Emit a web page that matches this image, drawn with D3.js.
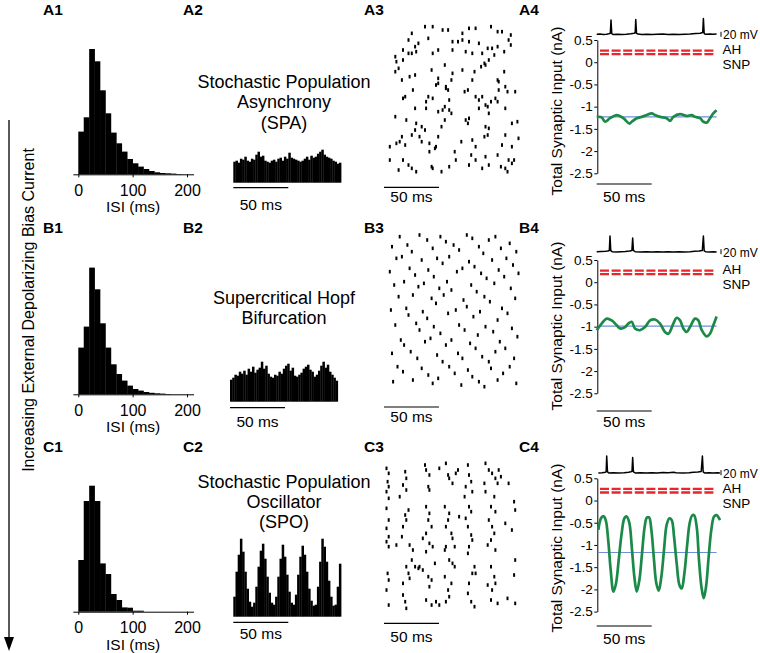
<!DOCTYPE html>
<html>
<head>
<meta charset="utf-8">
<script src="https://cdn.jsdelivr.net/npm/d3@7"></script>
<style>
  html, body { margin: 0; padding: 0; background: #fff; }
  svg { display: block; font-family: "Liberation Sans", Arial, Helvetica, sans-serif; }
</style>
</head>
<body>
<svg id="fig" width="760" height="653"></svg>
<script>
'use strict';

// ---------- data ----------
const sideLabel = 'Increasing External Depolarizing Bias Current';
const regimeTitles = [
  ['Stochastic Population', 'Asynchrony', '(SPA)'],
  ['Supercritical Hopf', 'Bifurcation'],
  ['Stochastic Population', 'Oscillator', '(SPO)']
];

// ISI histograms, 10 ms bins starting at 0 (relative counts)
const isiBinMs = 10;
const isiTicks = [0, 100, 200];
const isiA = [42.7, 57, 125.3, 113, 84, 61, 41.7, 31, 22.7, 15.3, 11, 7.7, 5.3, 3.3, 2, 1.3, 1, 0.7, 0.3];
const isiB = [46.7, 67.7, 126.7, 105, 71, 46.7, 30, 20.3, 13.7, 8.7, 5.3, 3.7, 2.3, 1.5, 1, 0.7, 0.3];
const isiC = [51.7, 110.7, 126, 110.7, 48.3, 37.7, 17.7, 11.7, 4.3, 4, 1, 1];

// population spike histograms, 2 ms bins
const psthBinMs = 2;
const psthA = [21, 22, 20, 24, 23, 26, 22, 21, 24, 23, 28, 31, 26, 27, 22, 21, 20, 22, 23, 21, 24, 25, 22, 26, 24,
  30, 25, 24, 23, 22, 21, 22, 24, 26, 23, 27, 25, 26, 29, 31, 33, 28, 26, 25, 24, 22, 21, 19, 20];
const psthB = [22, 24, 27, 26, 30, 28, 31, 27, 33, 30, 35, 29, 32, 34, 40, 33, 36, 28, 25, 24, 27, 26, 30, 28, 33,
  36, 38, 31, 34, 26, 25, 27, 29, 33, 35, 37, 32, 30, 25, 27, 31, 36, 40, 34, 37, 30, 27, 24, 21];
const psthC = [20, 45, 62, 78, 65, 45, 28, 15, 10, 14, 30, 50, 66, 73, 58, 40, 24, 14, 12, 20, 40, 58, 72, 60, 42,
  25, 14, 12, 22, 42, 60, 71, 62, 45, 28, 16, 11, 12, 30, 55, 78, 70, 55, 36, 20, 11, 12, 30, 53];

// rasters: [time ms, neuron index]
const rasterA = [[50,1],[57,1],[66,3],[71,3],[84,5],[90,2],[96,2],[110,1],[116,4],[120,4],[128,6],
  [38,5],[35,9],[44,11],[41,13],[53,8],[75,10],[80,10],[84,9],[90,10],[99,11],[107,14],[111,14],[116,13],[126,9],[128,12],
  [23,19],[30,15],[30,21],[35,17],[38,17],[42,16],[57,17],[62,15],[75,15],[87,16],[93,17],[102,17],[108,21],[113,18],[122,16],[24,22],[104,23],
  [23,28],[26,26],[29,33],[36,31],[41,30],[56,27],[62,32],[68,24],[75,29],[74,33],[84,27],[95,28],[101,25],[105,24],[116,33],[122,28],[117,34],[93,33],[123,37],[69,37],[62,35],
  [30,44],[32,43],[39,39],[53,43],[51,46],[57,44],[69,38],[71,39],[72,45],[86,40],[89,39],[96,43],[99,45],[102,43],[107,49],[110,46],[114,44],[117,39],[125,40],[132,40],[60,36],
  [23,55],[33,57],[41,50],[51,50],[62,52],[66,51],[72,51],[74,53],[68,49],[87,57],[89,59],[90,56],[99,50],[105,48],[108,53],[123,50],[116,46],[129,59],[134,58],[42,59],[47,61],[65,61],[105,61],[108,62],
  [38,66],[41,63],[45,67],[50,63],[54,71],[62,67],[60,73],[83,70],[93,69],[96,73],[104,67],[107,66],[123,66],[135,68],[29,67],[27,70],[24,71],[32,72],[47,70],[68,57],
  [18,73],[54,76],[59,74],[77,76],[78,81],[92,78],[96,81],[105,79],[108,84],[116,78],[120,72],[126,81],[129,83],[131,81],[18,81],[30,81],[35,84],[38,86],[56,85],[57,86],[72,85],[65,88],[26,87],[42,88],[90,84],[102,86],[119,85],[123,86],[125,88],[129,73]];
const rasterB = [[27,1],[45,0],[52,3],[64,1],[69,4],[88,0],[93,2],[108,3],[114,1],[127,5],
  [20,7],[34,6],[38,10],[57,8],[76,6],[81,9],[99,7],[103,11],[119,8],[133,10],
  [24,14],[29,13],[47,15],[61,14],[66,17],[72,13],[90,16],[95,19],[111,15],[124,14],[130,18],
  [18,22],[36,20],[41,24],[53,21],[58,25],[79,22],[84,20],[101,23],[106,26],[117,21],[122,25],[135,23],
  [22,30],[31,28],[44,31],[49,29],[63,32],[70,28],[74,33],[92,30],[97,34],[113,29],[128,32],
  [26,37],[39,36],[56,38],[60,41],[67,36],[85,39],[88,43],[104,37],[109,40],[120,44],[132,38],
  [19,45],[33,44],[35,48],[48,46],[52,50],[71,47],[78,45],[94,49],[100,46],[116,51],[125,47],
  [23,54],[42,53],[45,57],[58,55],[64,59],[81,54],[86,57],[98,60],[105,55],[112,58],[129,56],[134,61],
  [28,63],[31,66],[50,64],[55,62],[69,66],[74,63],[91,65],[96,68],[118,64],[123,68],
  [20,71],[37,70],[43,74],[61,72],[66,76],[80,71],[84,74],[102,73],[108,76],[114,70],[131,74],
  [25,79],[30,82],[47,80],[53,84],[72,79],[77,83],[89,81],[93,85],[110,80],[121,83],[127,79],
  [21,88],[39,87],[57,89],[62,86],[83,90],[99,88],[104,91],[116,87],[133,89]];
const rasterC = [[15,14],[17,17],[16,22],[17,25],[15,28],[17,32],[15,38],[17,45],[15,50],[17,55],[15,58],[17,61],[16,77],[17,81],[15,87],[17,96],
  [32,16],[33,20],[30,24],[33,27],[27,31],[35,39],[32,42],[33,45],[30,49],[29,55],[36,60],[39,63],[38,69],[33,73],[35,77],[36,80],[30,83],[30,90],[32,94],[33,98],[24,60],[41,73],[44,74],
  [50,12],[51,15],[54,18],[53,25],[54,27],[51,37],[54,41],[53,45],[56,49],[51,53],[48,56],[54,59],[57,61],[51,64],[48,75],[53,79],[56,81],[54,85],[51,93],[56,96],[45,73],[59,71],[60,94],[63,96],[63,14],
  [69,11],[71,18],[72,20],[75,23],[78,17],[68,37],[72,41],[71,45],[69,49],[74,53],[75,56],[69,61],[72,69],[75,71],[77,73],[68,79],[74,83],[71,87],[72,91],[69,94],[80,15],[81,43],[77,61],[68,63],
  [89,12],[90,18],[92,22],[87,25],[93,28],[90,37],[92,40],[87,44],[89,49],[92,54],[93,57],[90,61],[89,65],[95,73],[93,77],[90,83],[89,89],[92,94],[95,97],[96,77],[86,31],
  [105,11],[108,15],[111,17],[114,20],[116,23],[105,28],[113,31],[110,37],[114,40],[108,45],[111,49],[113,53],[110,57],[107,60],[114,63],[110,73],[113,79],[114,83],[111,87],[110,93],[116,95],[117,15],[119,19],[104,23],[107,84],
  [126,23],[131,34],[132,39],[129,51],[132,69],[131,78],[132,95],[125,92],[123,47]];

// membrane potential of one neuron: [time ms, mV]
const vmA = [[0,-60],[3,-59],[6,-61],[9,-60],[11,-58],[12.4,-56],[13,-3],[13.7,-57],[15,-61],[19,-60],[23,-61],[27,-60],[31,-58],[34,-56],[35,-54],[35.5,-1],[36.2,-56],[37.5,-59],[41,-61],[46,-60],[50,-61],[55,-60],[60,-59],[65,-61],[70,-60],[75,-61],[80,-60],[85,-59],[90,-57],[94,-56],[96.4,-53],[97,3],[97.7,-57],[99,-60],[103,-59],[106,-60],[109,-59]];
const vmB = [[0,-60],[4,-59],[8,-58],[10,-57],[11.5,-55],[12.1,3],[12.8,-56],[14,-60],[18,-61],[22,-60],[26,-59],[30,-57],[32,-55],[32.7,-5],[33.4,-56],[35,-60],[40,-61],[45,-60],[50,-61],[55,-60],[60,-61],[65,-60],[70,-61],[75,-60],[80,-61],[85,-60],[89,-58],[93,-57],[96,-55],[97,3],[97.7,-57],[99,-60],[103,-61],[106,-60],[109,-61]];
const vmC = [[1.5,-61],[5,-60],[8,-58],[8.6,-56],[9.1,7],[9.8,-57],[11,-61],[15,-60],[20,-61],[25,-60],[29,-58],[31,-56],[32.1,-54],[32.7,1],[33.4,-57],[35,-61],[40,-60],[45,-61],[50,-60],[55,-61],[60,-59],[65,-60],[70,-58],[72,-60],[78,-61],[84,-60],[88,-58],[92,-57],[95,-55],[96.1,7],[96.8,-57],[98,-61],[102,-60],[106,-61],[110,-60],[112,-61]];

// total synaptic input: [time ms, nA]
const synA = [[0,-1.23],[4.5,-1.24],[7.6,-1.34],[12.1,-1.26],[18.2,-1.19],[24.2,-1.26],[29.7,-1.38],[31.8,-1.34],[36.4,-1.26],[40.9,-1.23],[45.5,-1.19],[50,-1.15],[53,-1.19],[57.6,-1.23],[63.6,-1.26],[66.7,-1.32],[69.7,-1.23],[75.8,-1.17],[81.8,-1.21],[86.4,-1.19],[89.4,-1.23],[93.9,-1.26],[97,-1.34],[100,-1.36],[103,-1.26],[106,-1.15],[109,-1.08]];
const synB = [[0,-1.08],[4.5,-0.93],[9.1,-0.82],[13.6,-0.86],[18.2,-0.97],[21.2,-1.04],[25.8,-1.01],[28.8,-0.93],[31.8,-0.89],[34.8,-1.04],[39.4,-1.08],[43.9,-1.01],[48.5,-0.86],[53,-0.84],[57.6,-0.93],[62.1,-1.12],[65.2,-1.16],[69.7,-0.93],[72.7,-0.8],[75.8,-0.86],[78.8,-1.04],[81.8,-1.12],[84.8,-1.01],[89.4,-0.82],[92.4,-0.86],[95.5,-1.08],[100,-1.22],[103,-1.16],[106,-0.97],[109,-0.77]];
const synC = [[1.5,-0.66],[3.9,-0.4],[6.1,-0.35],[8.2,-0.44],[10.6,-0.93],[12.7,-1.56],[15.2,-2.05],[17.6,-1.86],[20,-1.34],[22.7,-0.74],[25.2,-0.4],[27.3,-0.36],[29.7,-0.51],[32.1,-1.11],[34.2,-1.71],[36.4,-2.05],[38.8,-1.79],[41.2,-1.19],[43.6,-0.59],[45.5,-0.39],[47.6,-0.38],[49.7,-0.66],[52.1,-1.34],[54.2,-1.86],[56.4,-2.03],[58.8,-1.71],[61.2,-1.11],[63.6,-0.55],[66.1,-0.4],[68.2,-0.44],[70.3,-0.81],[72.7,-1.41],[75.2,-1.9],[77.3,-1.98],[79.7,-1.64],[82.1,-1.04],[84.5,-0.51],[86.7,-0.34],[88.5,-0.33],[90.9,-0.59],[93,-1.34],[95.2,-1.94],[97.3,-2.2],[99.4,-1.94],[101.8,-1.26],[104.2,-0.66],[106.7,-0.36],[109.1,-0.33],[111.2,-0.4],[112.1,-0.44]];
const synMean = [-1.23, -0.99, -1.17];
const synTicks = [0.5, 0, -0.5, -1, -1.5, -2, -2.5];
const thresholdNames = ['AH', 'SNP'];
const thresholdValues = [0.26, 0.18];

const scaleBarMs = 50;
const scaleBarMv = 20;

// ---------- layout ----------
const INK = '#000';
const GREEN = '#1b8a48';
const RED = '#e8262b';
const BLUE = '#6f8fd8';
const PX_PER_MS = 1.1;

const rows = [
  { key: 'A', isi: isiA, psth: psthA, raster: rasterA, vm: vmA, syn: synA, mean: synMean[0], title: regimeTitles[0],
    labelY: 14.5, isiBase: 174.3, psthX0: 233.3, psthBase: 182.7, psthBarY: 187.7, psthTextY: 205,
    titleY: [81.7, 101.7, 123], rasterTop: 25, rasterBarY: 187.3, rasterTextY: 196.7,
    synTop: 40, vmBase: 34.3, synBarY: 184, synTextY: 196.7, synLabelY: 111 },
  { key: 'B', isi: isiB, psth: psthB, raster: rasterB, vm: vmB, syn: synB, mean: synMean[1], title: regimeTitles[1],
    labelY: 232.5, isiBase: 394.3, psthX0: 230, psthBase: 401.7, psthBarY: 407.7, psthTextY: 421.7,
    titleY: [298, 318], rasterTop: 235, rasterBarY: 407, rasterTextY: 417,
    synTop: 260, vmBase: 251.7, synBarY: 411, synTextY: 421.7, synLabelY: 326 },
  { key: 'C', isi: isiC, psth: psthC, raster: rasterC, vm: vmC, syn: synC, mean: synMean[2], title: regimeTitles[2],
    labelY: 452, isiBase: 611.7, psthX0: 233.3, psthBase: 616.7, psthBarY: 622.3, psthTextY: 633.3,
    titleY: [481.7, 501.7, 521.7], rasterTop: 445, rasterBarY: 623.3, rasterTextY: 636.7,
    synTop: 478.3, vmBase: 472.7, synBarY: 626, synTextY: 638.3, synLabelY: 548 }
];
const labelX = [43, 183, 364, 519];

const svg = d3.select('#fig');

function addText(g, x, y, s, size, anchor) {
  return g.append('text')
    .attr('x', x).attr('y', y).attr('dy', '0.35em')
    .attr('font-size', size)
    .attr('text-anchor', anchor || 'middle')
    .attr('fill', INK)
    .text(s);
}

function styleAxis(a, size) {
  a.attr('font-family', null).attr('font-size', size);
  a.selectAll('path, line').attr('stroke', INK).attr('stroke-width', 1);
  a.selectAll('text').attr('fill', INK);
}

function scaleBar(g, x0, x1, y, textY) {
  g.append('line').attr('x1', x0).attr('x2', x1).attr('y1', y).attr('y2', y)
    .attr('stroke', INK).attr('stroke-width', 1.2);
  addText(g, (x0 + x1) / 2, textY, scaleBarMs + ' ms', 15.5);
}

// ISI histogram
function drawIsi(g, r) {
  const x = d3.scaleLinear().domain([0, 200]).range([78.3, 187]);
  const y = d3.scaleLinear().domain([0, 130]).range([r.isiBase, r.isiBase - 130]);
  g.append('g').selectAll('rect').data(r.isi).join('rect')
    .attr('x', (d, k) => x(k * isiBinMs))
    .attr('width', x(isiBinMs) - x(0) + 0.3)
    .attr('y', d => y(d))
    .attr('height', d => r.isiBase - y(d))
    .attr('fill', INK);
  const ax = x.copy().domain([-10, 212]).range([x(-10), x(212)]);
  g.append('g').attr('transform', 'translate(0,' + r.isiBase + ')')
    .call(d3.axisBottom(ax).tickValues(isiTicks).tickSize(3).tickPadding(7).tickSizeOuter(0))
    .call(a => styleAxis(a, 16));
  addText(g, x(100) + 0.5, r.isiBase + 32.5, 'ISI (ms)', 15.5);
}

// population histogram with title
function drawPsth(g, r) {
  const x = d3.scaleLinear().domain([0, 100]).range([r.psthX0, r.psthX0 + 100 * PX_PER_MS]);
  const y = d3.scaleLinear().domain([0, 80]).range([r.psthBase, r.psthBase - 80]);
  g.append('g').selectAll('rect').data(r.psth).join('rect')
    .attr('x', (d, k) => x(k * psthBinMs))
    .attr('width', x(psthBinMs) - x(0) + 0.3)
    .attr('y', d => y(d))
    .attr('height', d => r.psthBase - y(d))
    .attr('fill', INK);
  scaleBar(g, x(0), x(scaleBarMs), r.psthBarY, r.psthTextY);
  r.title.forEach((line, k) => addText(g, 284, r.titleY[k], line, 18));
}

// spike raster
function drawRaster(g, r) {
  const x = d3.scaleLinear().domain([0, 150]).range([370, 370 + 150 * PX_PER_MS]);
  const y = d3.scaleLinear().domain([0, 100]).range([r.rasterTop, r.rasterTop + 166.7]);
  g.append('g').selectAll('rect').data(r.raster).join('rect')
    .attr('x', d => x(d[0]) - 1)
    .attr('y', d => y(d[1]) - 1.8)
    .attr('width', 2)
    .attr('height', 3.6)
    .attr('fill', INK);
  scaleBar(g, x(12.7), x(12.7 + scaleBarMs), r.rasterBarY, r.rasterTextY);
}

// synaptic input panel with membrane potential on top
function drawSyn(g, r) {
  const x = d3.scaleLinear().domain([0, 110]).range([596.7, 596.7 + 110 * PX_PER_MS]);
  const y = d3.scaleLinear().domain([0.5, -2.5]).range([r.synTop, r.synTop + 133.3]);
  const v = d3.scaleLinear().domain([-60, 0]).range([r.vmBase, r.vmBase - 15]);

  g.append('g').attr('transform', 'translate(597.3,0)')
    .call(d3.axisLeft(y).tickValues(synTicks).tickSize(3).tickPadding(1.5)
      .tickFormat(d => String(d)).tickSizeOuter(0))
    .call(a => styleAxis(a, 13.5));

  g.append('text')
    .attr('transform', 'translate(556.7,' + r.synLabelY + ') rotate(-90)')
    .attr('dy', '0.35em').attr('text-anchor', 'middle')
    .attr('font-size', 15.5).attr('fill', INK)
    .text('Total Synaptic Input (nA)');

  // AH / SNP thresholds
  thresholdValues.forEach(t => {
    g.append('line').attr('x1', 600).attr('x2', 715).attr('y1', y(t)).attr('y2', y(t))
      .attr('stroke', RED).attr('stroke-width', 2.3).attr('stroke-dasharray', '9,2.6');
  });
  addText(g, 722.5, y(thresholdValues[0]) - 1, thresholdNames[0], 13.5, 'start');
  addText(g, 722.5, y(thresholdValues[1]) + 10.5, thresholdNames[1], 13.5, 'start');

  // mean input
  g.append('line').attr('x1', x(1.5)).attr('x2', x(109)).attr('y1', y(r.mean)).attr('y2', y(r.mean))
    .attr('stroke', BLUE).attr('stroke-width', 1.2);

  g.append('path').datum(r.syn)
    .attr('fill', 'none').attr('stroke', GREEN).attr('stroke-width', 2.7)
    .attr('stroke-linejoin', 'round')
    .attr('d', d3.line().x(d => x(d[0])).y(d => y(d[1])).curve(d3.curveCatmullRom.alpha(0.5)));

  g.append('path').datum(r.vm)
    .attr('fill', 'none').attr('stroke', INK).attr('stroke-width', 1.5)
    .attr('stroke-linejoin', 'round')
    .attr('d', d3.line().x(d => x(d[0])).y(d => v(d[1])));

  // 20 mV bar
  g.append('line').attr('x1', 721).attr('x2', 721)
    .attr('y1', v(-60 - scaleBarMv / 2)).attr('y2', v(-60 + scaleBarMv / 2))
    .attr('stroke', INK).attr('stroke-width', 1);
  addText(g, 723, r.vmBase + 0.7, scaleBarMv + ' mV', 12, 'start');

  scaleBar(g, x(0), x(scaleBarMs), r.synBarY, r.synTextY);
}

rows.forEach(r => {
  const g = svg.append('g').attr('class', 'row-' + r.key);
  ['1', '2', '3', '4'].forEach((c, j) => {
    g.append('text').attr('x', labelX[j]).attr('y', r.labelY)
      .attr('font-size', 15.5).attr('font-weight', 'bold').attr('fill', INK)
      .text(r.key + c);
  });
  drawIsi(g, r);
  drawPsth(g, r);
  drawRaster(g, r);
  drawSyn(g, r);
});

// side arrow
const side = svg.append('g');
side.append('line').attr('x1', 9).attr('x2', 9).attr('y1', 120).attr('y2', 640)
  .attr('stroke', INK).attr('stroke-width', 1.3);
side.append('path').attr('d', 'M4,637 L14,637 L9,651 Z').attr('fill', INK);
side.append('text')
  .attr('transform', 'translate(28,310) rotate(-90)')
  .attr('dy', '0.35em').attr('text-anchor', 'middle')
  .attr('font-size', 16).attr('fill', INK)
  .text(sideLabel);
</script>
</body>
</html>
